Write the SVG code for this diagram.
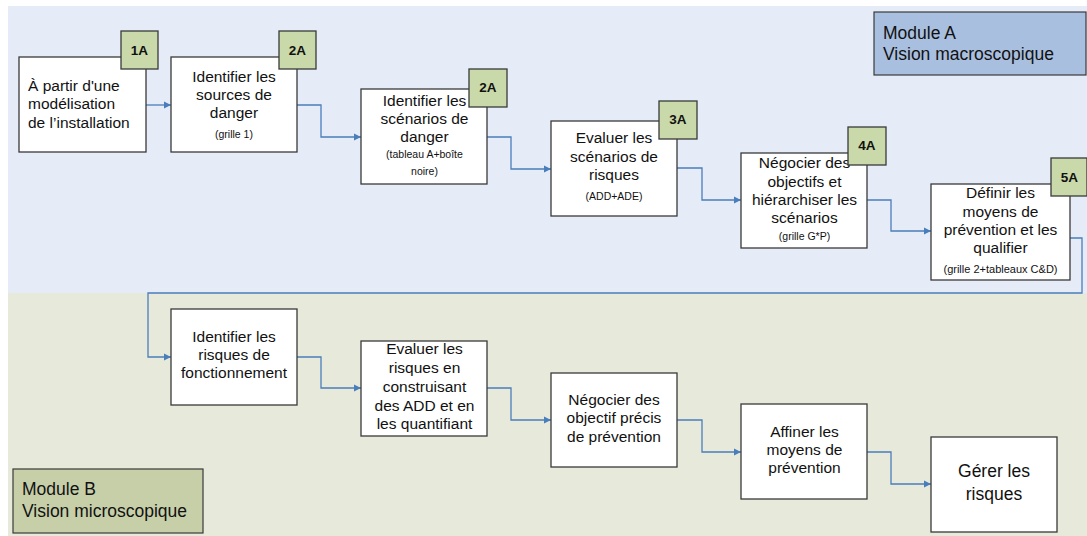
<svg xmlns="http://www.w3.org/2000/svg" width="1087" height="536" viewBox="0 0 1087 536">
<style>
  .bg { stroke: none; }
  .box { fill: #ffffff; stroke: #3a3a3a; stroke-width: 1.3; }
  .badge { fill: #c9d9a9; stroke: #3a3a3a; stroke-width: 1.3; }
  .t { font-family: "Liberation Sans", Arial, sans-serif; font-size: 15.5px; fill: #111; text-anchor: middle; }
  .tl { font-family: "Liberation Sans", Arial, sans-serif; font-size: 15.5px; fill: #111; }
  .s { font-family: "Liberation Sans", Arial, sans-serif; font-size: 10.5px; fill: #111; text-anchor: middle; }
  .b { font-family: "Liberation Sans", Arial, sans-serif; font-size: 13.5px; font-weight: bold; fill: #111; text-anchor: middle; }
  .m { font-family: "Liberation Sans", Arial, sans-serif; font-size: 17.5px; fill: #111; }
  .c { fill: none; stroke: #4a7ebb; stroke-width: 1.3; marker-end: url(#arr); }
</style>
<defs>
  <marker id="arr" viewBox="0 0 10 10" refX="10" refY="5" markerWidth="7" markerHeight="8" markerUnits="userSpaceOnUse" orient="auto">
    <path d="M0,0 L10,5 L0,10 Z" fill="#4a7ebb"/>
  </marker>
</defs>

<rect width="1087" height="536" fill="#ffffff"/>
<rect class="bg" x="8" y="6" width="1079" height="287" fill="#e6ecf7"/>
<rect class="bg" x="8" y="293" width="1079" height="243" fill="#e7e9db"/>

<g id="moduleA">
  <rect x="874" y="12" width="212" height="63" fill="#a9bfdf" stroke="#3a3a3a" stroke-width="1.2"/>
  <text class="m" x="883" y="39">Module A</text>
  <text class="m" x="883" y="60">Vision macroscopique</text>
</g>
<g id="moduleB">
  <rect x="13" y="469" width="190" height="64" fill="#c7cfa9" stroke="#3a3a3a" stroke-width="1.2"/>
  <text class="m" x="22" y="495">Module B</text>
  <text class="m" x="22" y="517">Vision microscopique</text>
</g>

<g id="connectors">
  <path class="c" d="M146,105 L171,105"/>
  <path class="c" d="M297,105 H321 V137 H361"/>
  <path class="c" d="M487,137 H511 V169 H551"/>
  <path class="c" d="M677,168 H702 V200 H741"/>
  <path class="c" d="M867,200 H891 V231 H931"/>
  <path class="c" d="M1070,238 H1082 V293 H148 V357 H171"/>
  <path class="c" d="M297,357 H321 V388 H361"/>
  <path class="c" d="M487,388 H511 V420 H551"/>
  <path class="c" d="M677,420 H702 V452 H741"/>
  <path class="c" d="M867,452 H891 V484 H931"/>
</g>

<g id="n1">
  <rect class="box" x="19" y="57" width="127" height="95"/>
  <text class="tl" x="28" y="91">À partir d'une</text>
  <text class="tl" x="28" y="109">modélisation</text>
  <text class="tl" x="28" y="128">de l’installation</text>
  <rect class="badge" x="121" y="31" width="37" height="38"/>
  <text class="b" x="139.5" y="55">1A</text>
</g>

<g id="n2">
  <rect class="box" x="171" y="57" width="126" height="95"/>
  <text class="t" x="234" y="82">Identifier les</text>
  <text class="t" x="234" y="100">sources de</text>
  <text class="t" x="234" y="118">danger</text>
  <text class="s" x="234" y="138">(grille 1)</text>
  <rect class="badge" x="279" y="31" width="37" height="38"/>
  <text class="b" x="297.5" y="55">2A</text>
</g>

<g id="n3">
  <rect class="box" x="361" y="89" width="126" height="95"/>
  <text class="t" x="424.5" y="106">Identifier les</text>
  <text class="t" x="424.5" y="124">scénarios de</text>
  <text class="t" x="424.5" y="142">danger</text>
  <text class="s" x="424.5" y="158">(tableau A+boîte</text>
  <text class="s" x="424.5" y="175">noire)</text>
  <rect class="badge" x="469" y="69" width="38" height="38"/>
  <text class="b" x="488" y="92">2A</text>
</g>

<g id="n4">
  <rect class="box" x="551" y="121" width="126" height="95"/>
  <text class="t" x="614" y="143">Evaluer les</text>
  <text class="t" x="614" y="162">scénarios de</text>
  <text class="t" x="614" y="180">risques</text>
  <text class="s" x="614" y="200">(ADD+ADE)</text>
  <rect class="badge" x="659" y="101" width="38" height="38"/>
  <text class="b" x="678" y="124">3A</text>
</g>

<g id="n5">
  <rect class="box" x="741" y="153" width="126" height="95"/>
  <text class="t" x="804.5" y="168">Négocier des</text>
  <text class="t" x="804.5" y="187">objectifs et</text>
  <text class="t" x="804.5" y="205">hiérarchiser les</text>
  <text class="t" x="804.5" y="223">scénarios</text>
  <text class="s" x="804.5" y="240">(grille G*P)</text>
  <rect class="badge" x="848" y="127" width="38" height="38"/>
  <text class="b" x="867" y="150">4A</text>
</g>

<g id="n6">
  <rect class="box" x="931" y="184" width="139" height="96"/>
  <text class="t" x="1000.5" y="198">Définir les</text>
  <text class="t" x="1000.5" y="217">moyens de</text>
  <text class="t" x="1000.5" y="235">prévention et les</text>
  <text class="t" x="1000.5" y="253">qualifier</text>
  <text class="s" x="1000.5" y="273" style="font-size:11px">(grille 2+tableaux C&amp;D)</text>
  <rect class="badge" x="1051" y="158" width="36" height="38"/>
  <text class="b" x="1069.5" y="182">5A</text>
</g>

<g id="n7">
  <rect class="box" x="171" y="309" width="126" height="96"/>
  <text class="t" x="234" y="342">Identifier les</text>
  <text class="t" x="234" y="360">risques de</text>
  <text class="t" x="234" y="378">fonctionnement</text>
</g>

<g id="n8">
  <rect class="box" x="361" y="341" width="126" height="95"/>
  <text class="t" x="424.5" y="354">Evaluer les</text>
  <text class="t" x="424.5" y="373">risques en</text>
  <text class="t" x="424.5" y="392">construisant</text>
  <text class="t" x="424.5" y="411">des ADD et en</text>
  <text class="t" x="424.5" y="429">les quantifiant</text>
</g>

<g id="n9">
  <rect class="box" x="551" y="373" width="126" height="94"/>
  <text class="t" x="614" y="405">Négocier des</text>
  <text class="t" x="614" y="423">objectif précis</text>
  <text class="t" x="614" y="442">de prévention</text>
</g>

<g id="n10">
  <rect class="box" x="741" y="404" width="126" height="95"/>
  <text class="t" x="804.5" y="437">Affiner les</text>
  <text class="t" x="804.5" y="455">moyens de</text>
  <text class="t" x="804.5" y="473">prévention</text>
</g>

<g id="n11">
  <rect class="box" x="931" y="437" width="126" height="95"/>
  <text class="t" x="994" y="477" style="font-size:17.5px">Gérer les</text>
  <text class="t" x="994" y="500" style="font-size:17.5px">risques</text>
</g>
</svg>
